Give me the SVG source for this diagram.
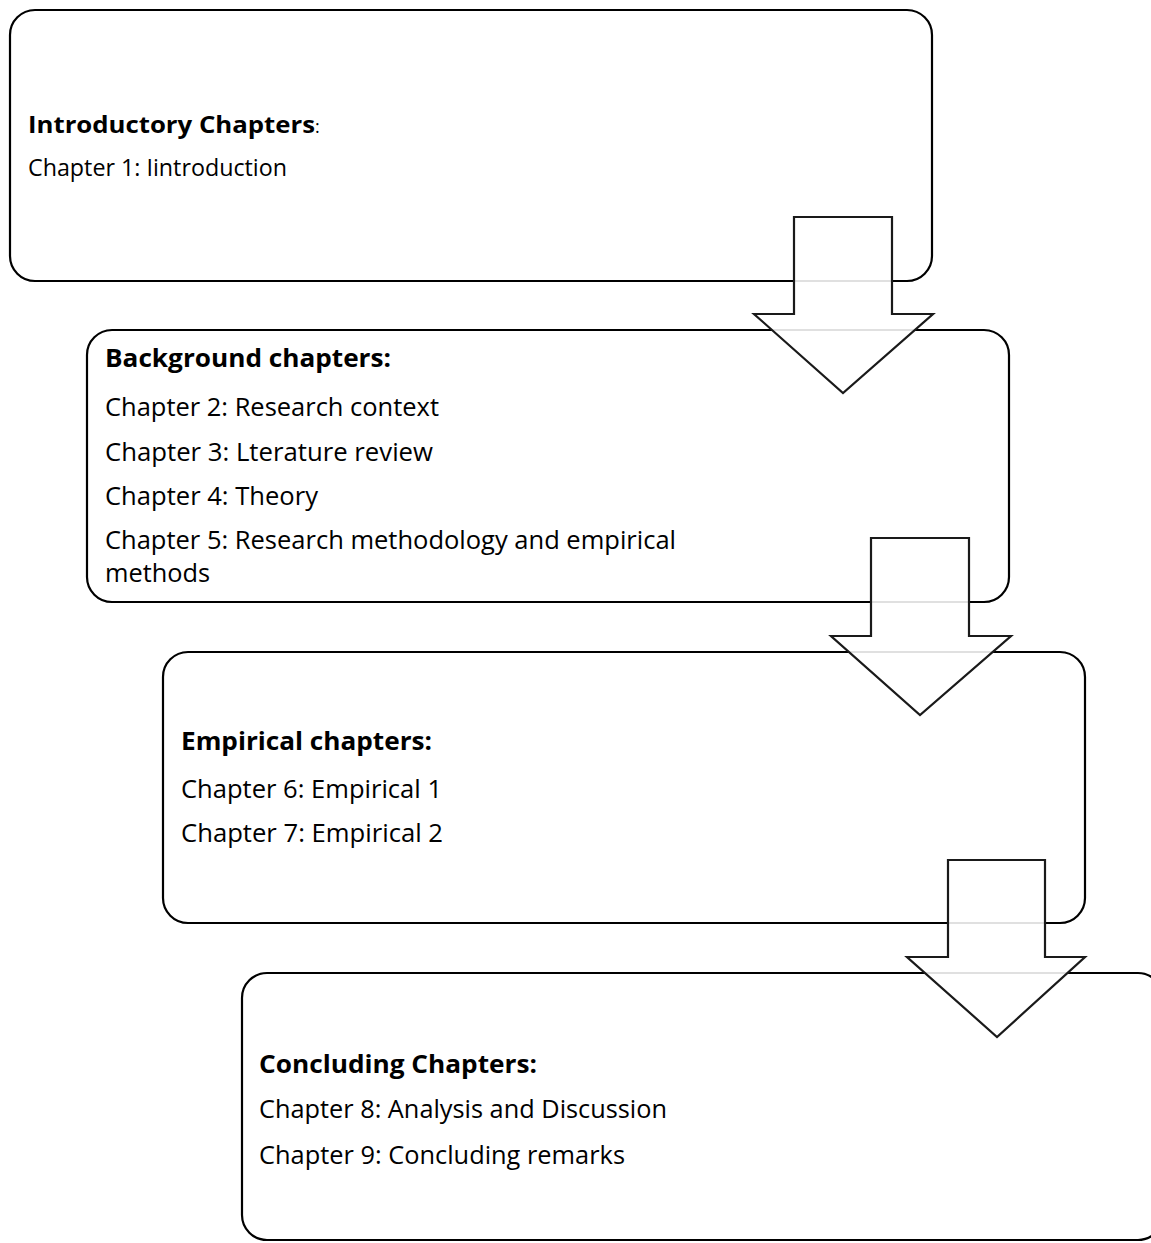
<svg xmlns="http://www.w3.org/2000/svg" width="1151" height="1243" viewBox="0 0 1151 1243">
<style>
.box{fill:#fff;stroke:#000;stroke-width:2.2}
.arr{fill:#fff;fill-opacity:0.88;stroke:#1a1a1a;stroke-width:2.2;stroke-linejoin:miter}
text{font-family:"Open Sans","Noto Sans","Liberation Sans",sans-serif;font-size:25.5px;fill:#000}
.s{font-size:23px}
.b{font-weight:bold}
</style>
<rect width="1151" height="1243" fill="#fff"/>
<g id="node-intro">
<rect class="box" x="10" y="10" width="922" height="271" rx="25" ry="25"/>
<text class="s" x="28" y="133"><tspan class="b" textLength="287" lengthAdjust="spacingAndGlyphs">Introductory Chapters</tspan><tspan font-size="18">:</tspan></text>
<text class="s" x="28" y="176" textLength="259" lengthAdjust="spacingAndGlyphs">Chapter 1: Iintroduction</text>
</g>
<g id="node-background">
<rect class="box" x="87" y="330" width="922" height="272" rx="25" ry="25"/>
<text class="b" x="105" y="367" textLength="286" lengthAdjust="spacingAndGlyphs">Background chapters:</text>
<text x="105" y="416" textLength="334" lengthAdjust="spacingAndGlyphs">Chapter 2: Research context</text>
<text x="105" y="461" textLength="328" lengthAdjust="spacingAndGlyphs">Chapter 3: Lterature review</text>
<text x="105" y="505" textLength="213" lengthAdjust="spacingAndGlyphs">Chapter 4: Theory</text>
<text x="105" y="549" textLength="571" lengthAdjust="spacingAndGlyphs">Chapter 5: Research methodology and empirical</text>
<text x="105" y="582" textLength="105" lengthAdjust="spacingAndGlyphs">methods</text>
</g>
<g id="node-empirical">
<rect class="box" x="163" y="652" width="922" height="271" rx="25" ry="25"/>
<text class="b" x="181" y="750" textLength="251" lengthAdjust="spacingAndGlyphs">Empirical chapters:</text>
<text x="181" y="798" textLength="261" lengthAdjust="spacingAndGlyphs">Chapter 6: Empirical 1</text>
<text x="181" y="842" textLength="262" lengthAdjust="spacingAndGlyphs">Chapter 7: Empirical 2</text>
</g>
<g id="node-concluding">
<rect class="box" x="242" y="973" width="921" height="267" rx="25" ry="25"/>
<text class="b" x="259" y="1073" textLength="278" lengthAdjust="spacingAndGlyphs">Concluding Chapters:</text>
<text x="259" y="1118" textLength="408" lengthAdjust="spacingAndGlyphs">Chapter 8: Analysis and Discussion</text>
<text x="259" y="1164" textLength="366" lengthAdjust="spacingAndGlyphs">Chapter 9: Concluding remarks</text>
</g>
<g id="connectors">
<polygon class="arr" points="794,217 892,217 892,314 933,314 843,393 754,314 794,314"/>
<polygon class="arr" points="871,538 969,538 969,636 1011,636 920,715 831,636 871,636"/>
<polygon class="arr" points="948,860 1045,860 1045,957 1085,957 997,1037 907,957 948,957"/>
</g>
</svg>
